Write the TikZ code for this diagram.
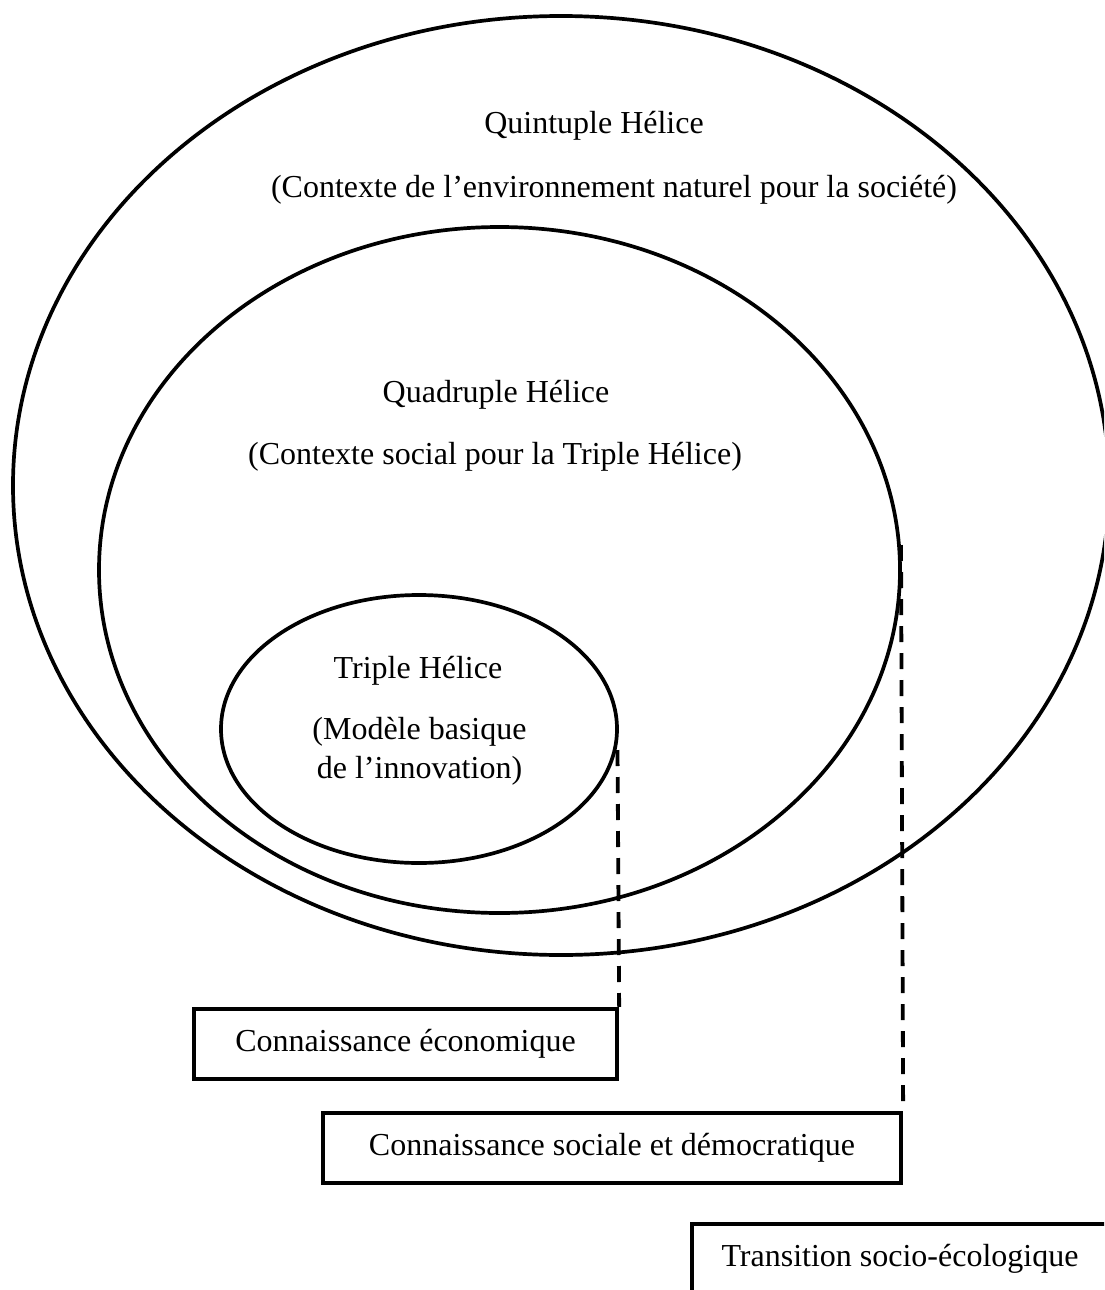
\documentclass[tikz,border=0pt]{standalone}
\usepackage{fontspec}
\setmainfont{Liberation Serif}
\usetikzlibrary{shapes.geometric}
\tikzset{
  helix/.style={ellipse, draw, line width=3.7pt, inner sep=0pt},
  lbl/.style={anchor=base, inner sep=0pt, font=\fontsize{32}{39}\selectfont},
  kbox/.style={rectangle, draw, line width=4.3pt, inner sep=0pt,
    minimum height=70pt, text height=21pt, text depth=7pt,
    font=\fontsize{32}{39}\selectfont},
  link/.style={line width=3.8pt, dash pattern=on 16pt off 11pt}
}
\begin{document}
\begin{tikzpicture}[x=1pt,y=-1pt]
\useasboundingbox (0,0) rectangle (1104,1290);
\clip (0,0) rectangle (1104,1290);
\fill[white] (0,0) rectangle (1104,1290);
% ellipses
\node[helix, minimum width=1096pt, minimum height=939pt] (Q5) at (561,485.5) {};
\node[helix, minimum width=801pt, minimum height=686pt] (Q4) at (499.5,570) {};
\node[helix, minimum width=396pt, minimum height=268pt] (T3) at (419,729) {};
% labels
\node[lbl] (Q5a) at (594,133) {Quintuple Hélice};
\node[lbl] (Q5b) at (614,197) {(Contexte de l’environnement naturel pour la société)};
\node[lbl] (Q4a) at (496,402) {Quadruple Hélice};
\node[lbl] (Q4b) at (495,464) {(Contexte social pour la Triple Hélice)};
\node[lbl] (T3a) at (418,678) {Triple Hélice};
\node[lbl] (T3b) at (419.5,739) {(Modèle basique};
\node[lbl] (T3c) at (419.5,778) {de l’innovation)};
% boxes
\node[kbox, minimum width=423pt] (B1) at (405.5,1044) {Connaissance économique};
\node[kbox, minimum width=578pt] (B2) at (612,1148) {Connaissance sociale et démocratique};
\node[kbox, minimum width=416pt] (B3) at (900,1259) {Transition socio-écologique};
% connectors
\coordinate (c1) at (617.5,750);
\coordinate (c2) at (901,545);
\draw[link] (c1) -- (B1.north east);
\draw[link] (c2) -- (B2.north east);
\end{tikzpicture}
\end{document}
